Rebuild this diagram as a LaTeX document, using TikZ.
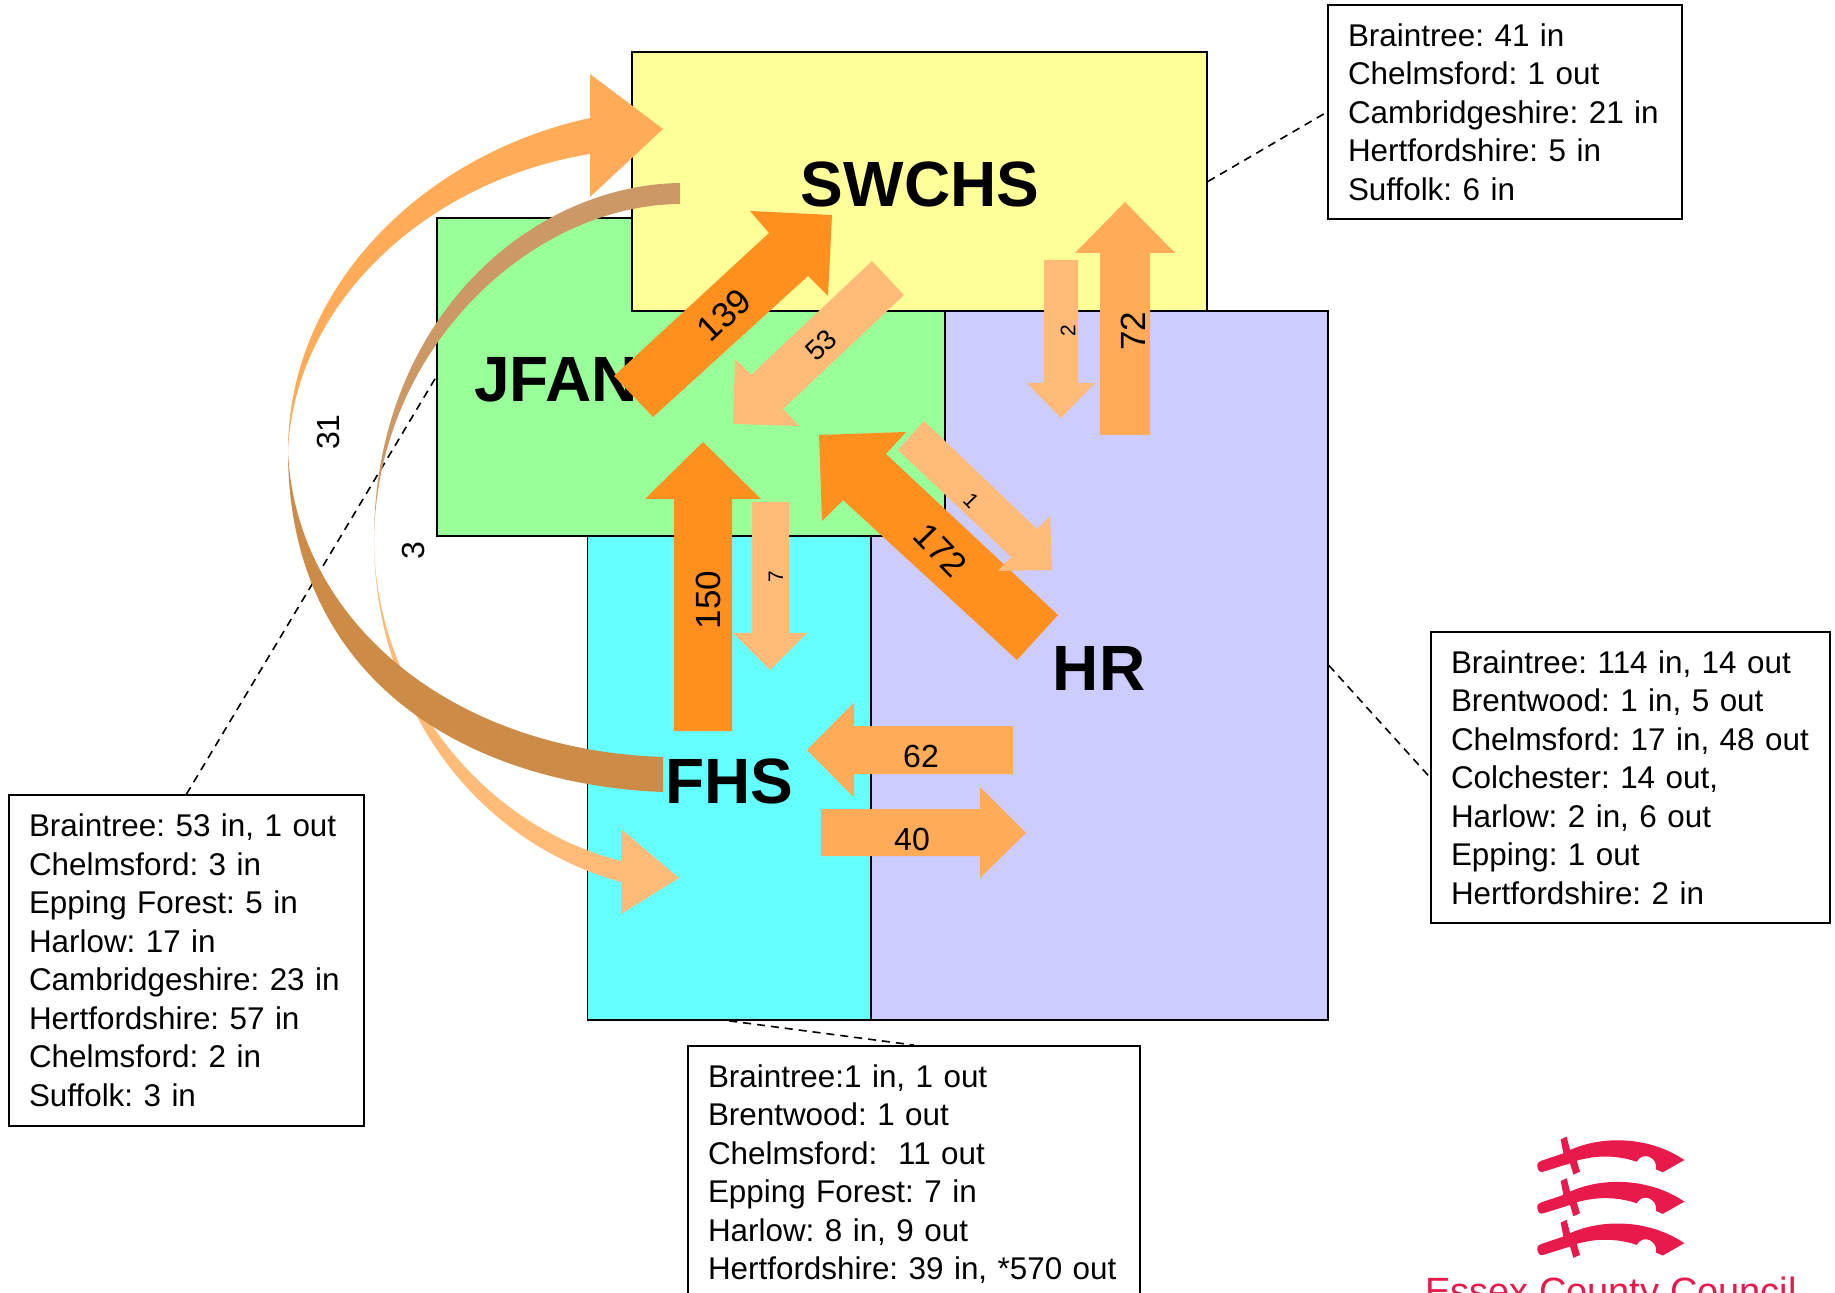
\documentclass[tikz,border=0pt]{standalone}
\usepackage{fontspec}
\setmainfont{Liberation Sans}
\frenchspacing
\definecolor{cyel}{HTML}{FFFF99}
\definecolor{cgrn}{HTML}{99FF99}
\definecolor{ccya}{HTML}{66FFFF}
\definecolor{clav}{HTML}{CCCCFF}
\definecolor{odark}{HTML}{FF8F1F}
\definecolor{omid}{HTML}{FFAB57}
\definecolor{olight}{HTML}{FFBB77}
\definecolor{bdark}{HTML}{CC8B47}
\definecolor{blight}{HTML}{CC9966}
\definecolor{ecc}{HTML}{E8194B}
\newcommand{\swordshape}{(562,200) .. controls (560,190) and (565,186) .. (575,182) -- (640,160) -- (632,118) -- (650,110) -- (660,150) .. controls (760,105) and (900,110) .. (1003,180) -- (938,217) -- (918,208) .. controls (925,175) and (880,150) .. (860,185) .. controls (800,165) and (740,165) .. (680,182) -- (690,215) -- (670,224) -- (660,190) -- (580,215) .. controls (570,219) and (564,212) .. (562,200) -- cycle}
\tikzset{
  region/.style={draw=black,line width=0.9pt,inner sep=0pt},
  title/.style={font=\fontsize{32}{36}\selectfont\bfseries,inner sep=0pt},
  infobox/.style={draw=black,line width=0.9pt,fill=white,align=left,inner xsep=10pt,inner ysep=0pt,font=\fontsize{15.7}{19.25}\selectfont},
  leader/.style={draw=black,line width=0.8pt,dash pattern=on 4pt off 3pt},
  biglabel/.style={font=\fontsize{17.5}{19}\selectfont,inner sep=0pt},
  midlabel/.style={font=\fontsize{14}{16}\selectfont,inner sep=0pt},
  flatlabel/.style={font=\fontsize{16}{18}\selectfont,inner sep=0pt},
  smalllabel/.style={font=\fontsize{10.5}{12}\selectfont,inner sep=0pt},
}
\begin{document}
\begin{tikzpicture}[x=0.5pt,y=-0.5pt]
\useasboundingbox (0,0) rectangle (1835,1293);
\clip (0,0) rectangle (1835,1293);
% regions
\node[region,fill=clav,minimum width=228.5pt,minimum height=354.5pt] (hr) at (1099.5,665.5) {};
\node[region,fill=ccya,minimum width=141.75pt,minimum height=242pt] (fhs) at (729.25,778) {};
\node[region,fill=cgrn,minimum width=254pt,minimum height=159pt] (jfan) at (691,377) {};
\node[region,fill=cyel,minimum width=287.5pt,minimum height=129.5pt] (swchs) at (919.5,181.5) {};
% region titles
\node[title] (tswchs) at (920,184) {SWCHS};
\node[title,anchor=west] (tjfan) at (474,380) {JFAN};
\node[title] (tfhs) at (729,781) {FHS};
\node[title] (thr) at (1099,668) {HR};
% info boxes
\node[infobox,text width=157pt,minimum width=177pt,minimum height=107pt] (box1) at (1505,112) {Braintree: 41 in\\Chelmsford: 1 out\\Cambridgeshire: 21 in\\Hertfordshire: 5 in\\Suffolk: 6 in};
\node[infobox,text width=179.5pt,minimum width=199.5pt,minimum height=145.5pt] (box2) at (1630.5,777.5) {Braintree: 114 in, 14 out\\Brentwood: 1 in, 5 out\\Chelmsford: 17 in, 48 out\\Colchester: 14 out,\\Harlow: 2 in, 6 out\\Epping: 1 out\\Hertfordshire: 2 in};
\node[infobox,text width=157.5pt,minimum width=177.5pt,minimum height=165.5pt] (box3) at (186.5,960.5) {Braintree: 53 in, 1 out\\Chelmsford: 3 in\\Epping Forest: 5 in\\Harlow: 17 in\\Cambridgeshire: 23 in\\Hertfordshire: 57 in\\Chelmsford: 2 in\\Suffolk: 3 in};
\node[infobox,text width=206pt,minimum width=226pt,minimum height=128pt] (box4) at (914,1174) {Braintree:1 in, 1 out\\Brentwood: 1 out\\Chelmsford:\ \ 11 out\\Epping Forest: 7 in\\Harlow: 8 in, 9 out\\Hertfordshire: 39 in, *570 out};
% leaders
\draw[leader] (swchs.east) -- (box1.west);
\draw[leader] (hr.east) -- (box2.west);
\draw[leader] (fhs.south) -- (box4.north);
\draw[leader] (box3.north) -- (jfan.west);
% curved arrows
\fill[olight] (374,540) .. controls (374,700) and (470,840) .. (621,882) -- (621,914) -- (679,878) -- (621,829) -- (621,861) .. controls (480,825) and (375,690) .. (374,540) -- cycle;
\fill[omid] (288,451) .. controls (288,290) and (420,155) .. (590,118) -- (590,74) -- (663,129) -- (590,197) -- (590,154) .. controls (430,180) and (295,300) .. (288,451) -- cycle;
\fill[blight] (680,183) .. controls (530,185) and (374,320) .. (374,540) .. controls (376,350) and (530,205) .. (680,204) -- cycle;
\fill[bdark] (663,792) .. controls (480,785) and (288,690) .. (288,451) .. controls (295,620) and (450,750) .. (663,757) -- cycle;
% straight arrows
\fill[odark] (614,376) -- (769,233) -- (750,211) -- (832,215) -- (828,296) -- (808,276) -- (653,417) -- cycle;
\fill[olight] (872,261) -- (751,375) -- (735,359) -- (733,424) -- (799,426) -- (783,409) -- (904,295) -- cycle;
\fill[odark] (703,442) -- (761,499) -- (732,499) -- (732,731) -- (674,731) -- (674,499) -- (645,499) -- cycle;
\fill[olight] (752,502) -- (789,502) -- (789,633) -- (807,633) -- (770,670) -- (733,633) -- (752,633) -- cycle;
\fill[odark] (819,435) -- (906,432) -- (886,454) -- (1058,615) -- (1017,660) -- (843,500) -- (822,521) -- cycle;
\fill[olight] (924,421) -- (1037,529) -- (1050,516) -- (1052,570) -- (998,571) -- (1011,557) -- (898,450) -- cycle;
\fill[olight] (1044,260) -- (1078,260) -- (1078,383) -- (1095,383) -- (1061,418) -- (1027,383) -- (1044,383) -- cycle;
\fill[omid] (1125,202) -- (1175,253) -- (1150,253) -- (1150,435) -- (1100,435) -- (1100,253) -- (1075,253) -- cycle;
\fill[omid] (807,750) -- (854,702.5) -- (854,726) -- (1013,726) -- (1013,774) -- (854,774) -- (854,797.5) -- cycle;
\fill[omid] (821,809) -- (980,809) -- (980,787) -- (1026,833) -- (980,878) -- (980,856) -- (821,856) -- cycle;
% arrow labels
\node[biglabel,rotate=43] (l139) at (724,315) {139};
\node[midlabel,rotate=43] (l53) at (821,345) {53};
\node[biglabel,rotate=90] (l150) at (708,600) {150};
\node[smalllabel,rotate=90] (l7) at (776,577) {7};
\node[biglabel,rotate=-46] (l172) at (941,550) {172};
\node[smalllabel,rotate=-46] (l1) at (971,501) {1};
\node[smalllabel,rotate=90] (l2) at (1068,331) {2};
\node[biglabel,rotate=90] (l72) at (1133,331) {72};
\node[flatlabel] (l62) at (921,756) {62};
\node[flatlabel] (l40) at (912,839) {40};
\node[flatlabel,rotate=90] (l31) at (328,432) {31};
\node[flatlabel,rotate=90] (l3) at (413,551) {3};
% logo
\begin{scope}[shift={(1350,1100)},x=0.16667pt,y=-0.16667pt]
\fill[ecc] \swordshape;
\begin{scope}[yshift=-20.8pt]\fill[ecc] \swordshape;\end{scope}
\begin{scope}[yshift=-41.6pt]\fill[ecc] \swordshape;\end{scope}
\end{scope}
\node[anchor=base,text=ecc,font=\fontsize{19}{22}\selectfont,inner sep=0pt] (logotext) at (1611,1304) {Essex County Council};
\end{tikzpicture}
\end{document}
